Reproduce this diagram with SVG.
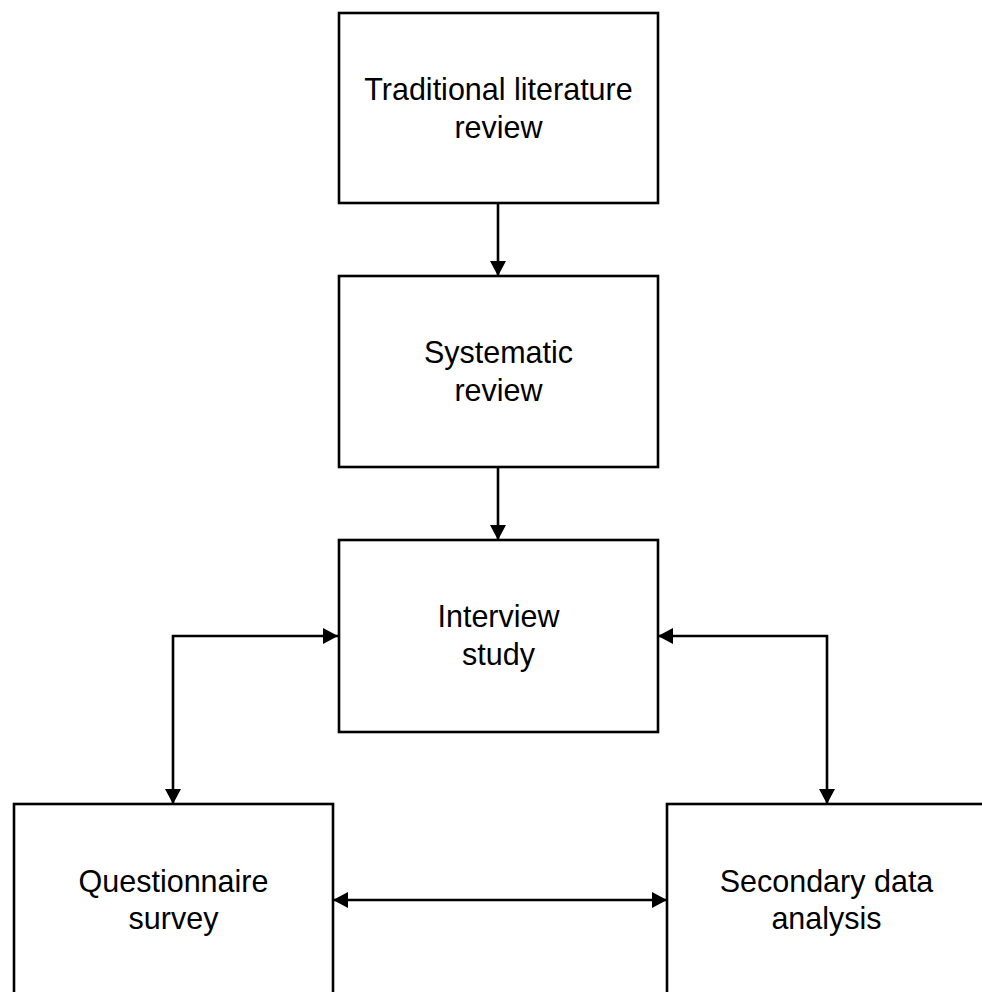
<svg xmlns="http://www.w3.org/2000/svg" width="982" height="992" viewBox="0 0 982 992">
<style>
.box{fill:#fff;stroke:#000;stroke-width:2.6}
.lbl{font-family:"Liberation Sans",Arial,sans-serif;font-size:30.5px;fill:#000;text-anchor:middle}
.con{fill:none;stroke:#000;stroke-width:2.6}
</style>
<defs>
<marker id="ah" viewBox="0 0 15 16" refX="15" refY="8" markerWidth="15" markerHeight="16" markerUnits="userSpaceOnUse" orient="auto-start-reverse">
<path d="M0,0 L15,8 L0,16 z" fill="#000"/>
</marker>
</defs>
<rect width="982" height="992" fill="#fff"/>
<g id="traditional">
<rect class="box" x="339" y="13" width="319" height="190"/>
<text class="lbl" x="498.5" y="100">Traditional literature</text>
<text class="lbl" x="498.5" y="138">review</text>
</g>
<g id="systematic">
<rect class="box" x="339" y="276" width="319" height="191"/>
<text class="lbl" x="498.5" y="363">Systematic</text>
<text class="lbl" x="498.5" y="401">review</text>
</g>
<g id="interview">
<rect class="box" x="339" y="540" width="319" height="192"/>
<text class="lbl" x="498.5" y="627">Interview</text>
<text class="lbl" x="498.5" y="665">study</text>
</g>
<g id="questionnaire">
<rect class="box" x="14" y="804" width="319" height="220"/>
<text class="lbl" x="173.5" y="892">Questionnaire</text>
<text class="lbl" x="173.5" y="929">survey</text>
</g>
<g id="secondary">
<rect class="box" x="667" y="804" width="319" height="220"/>
<text class="lbl" x="826.5" y="892">Secondary data</text>
<text class="lbl" x="826.5" y="929">analysis</text>
</g>
<g id="connectors">
<path class="con" d="M498,204 L498,276" marker-end="url(#ah)"/>
<path class="con" d="M498,468 L498,540" marker-end="url(#ah)"/>
<path class="con" d="M338,636 L173,636 L173,804" marker-start="url(#ah)" marker-end="url(#ah)"/>
<path class="con" d="M658,636 L827,636 L827,804" marker-start="url(#ah)" marker-end="url(#ah)"/>
<path class="con" d="M333,900 L667,900" marker-start="url(#ah)" marker-end="url(#ah)"/>
</g>
</svg>
